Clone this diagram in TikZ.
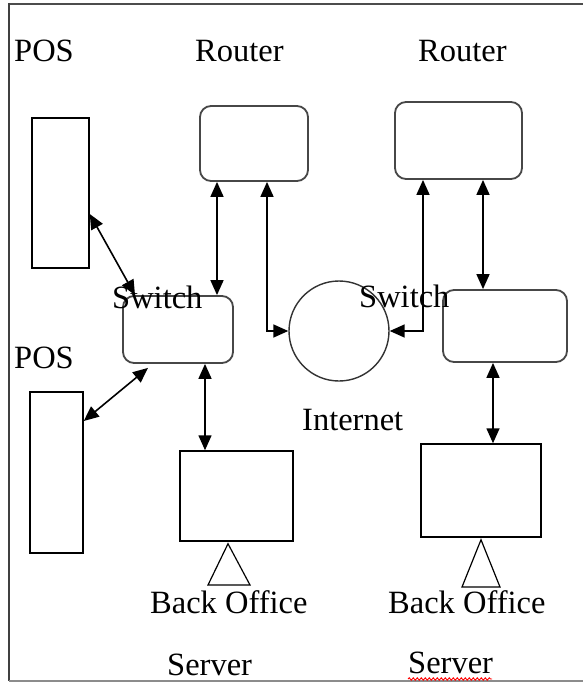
\documentclass[tikz,border=0pt]{standalone}
\usepackage{fontspec}
\setmainfont{Liberation Serif}
\usetikzlibrary{arrows.meta,decorations.pathmorphing,calc}
\begin{document}
\begin{tikzpicture}[x=1pt,y=-1pt,
  lbl/.style={anchor=base west,inner sep=0pt,font=\fontsize{32.5}{38}\selectfont},
  rbox/.style={draw=black!72,line width=1.8pt,rounded corners=11pt,inner sep=0pt},
  sbox/.style={draw=black,line width=1.5pt,inner sep=0pt},
  arr/.style={line width=1.6pt,{Triangle[length=15pt,width=13pt]}-{Triangle[length=15pt,width=13pt]}},
  tri/.style={draw=black,line width=1.2pt}]
\useasboundingbox (0,0) rectangle (583,682);
\clip (0,0) rectangle (583,682);
\fill[white] (0,0) rectangle (583,682);
% frame
\draw[black!70,line width=2.5pt] (600,4) -- (9,4);
\draw[black!75,line width=2pt] (9,3) -- (9,681);
\draw[black!45,line width=1.5pt] (9,681) -- (600,681);
% labels
\node[lbl] (lpos1) at (14,62) {POS};
\node[lbl] (lrt1) at (195,62) {Router};
\node[lbl] (lrt2) at (418,62) {Router};
\node[lbl] (lpos2) at (14,368) {POS};
\node[lbl] (linet) at (302,430) {Internet};
\node[lbl] (lbo1) at (150,613) {Back Office};
\node[lbl] (lbo2) at (388,613) {Back Office};
\node[lbl] (lsv1) at (167,675) {Server};
\node[lbl] (lsv2) at (408,673) {Server};
% boxes
\node[sbox,minimum width=57pt,minimum height=150pt] (pos1) at (60.5,193) {};
\node[sbox,minimum width=53pt,minimum height=161pt] (pos2) at (56.5,472.5) {};
\node[rbox,minimum width=108pt,minimum height=75pt] (rt1) at (254,143.5) {};
\node[rbox,minimum width=127pt,minimum height=77pt] (rt2) at (458.5,140.5) {};
\node[rbox,minimum width=110pt,minimum height=67pt] (sw1) at (178,329.5) {};
\node[rbox,minimum width=124pt,minimum height=72pt] (sw2) at (505,326) {};
\node[circle,draw=black!80,line width=1.4pt,minimum size=100pt,inner sep=0pt] (inet) at (339,331) {};
\node[sbox,minimum width=113pt,minimum height=90pt] (srv1) at (236.5,496) {};
\node[sbox,minimum width=120pt,minimum height=93pt] (srv2) at (481,490.5) {};
% Switch labels (on top of boxes)
\node[lbl] (lsw1) at (112,308) {Switch};
\node[lbl] (lsw2) at (359,307) {Switch};
% triangles
\draw[tri] (srv1.south -| 228,0) ++(0,2) -- (208,585) -- (250,585) -- cycle;
\draw[tri] (srv2.south -| 481,0) ++(0,2) -- (462,587) -- (500,587) -- cycle;
% connectors
\draw[arr] (pos1.east |- 0,214) -- (sw1.north -| 135,0);
\draw[arr] (pos2.east |- 0,421) -- ($(sw1.south -| 148,0)+(0,4)$);
\draw[arr] (rt1.south -| 217,0) -- (sw1.north -| 217,0);
\draw[arr] (rt2.south -| 483,0) -- (sw2.north -| 483,0);
\draw[arr] (sw1.south -| 205,0) -- (srv1.north -| 205,0);
\draw[arr] (sw2.south -| 493,0) -- (srv2.north -| 493,0);
\draw[arr] (rt1.south -| 267,0) |- (inet.west);
\draw[arr] (rt2.south -| 423,0) |- (inet.east);
% spell-check underline
\draw[red,line width=0.9pt,decorate,decoration={snake,amplitude=1.2pt,segment length=4pt}] (lsv2.base west) ++(0,6) -- ++(84,0);
\end{tikzpicture}
\end{document}
